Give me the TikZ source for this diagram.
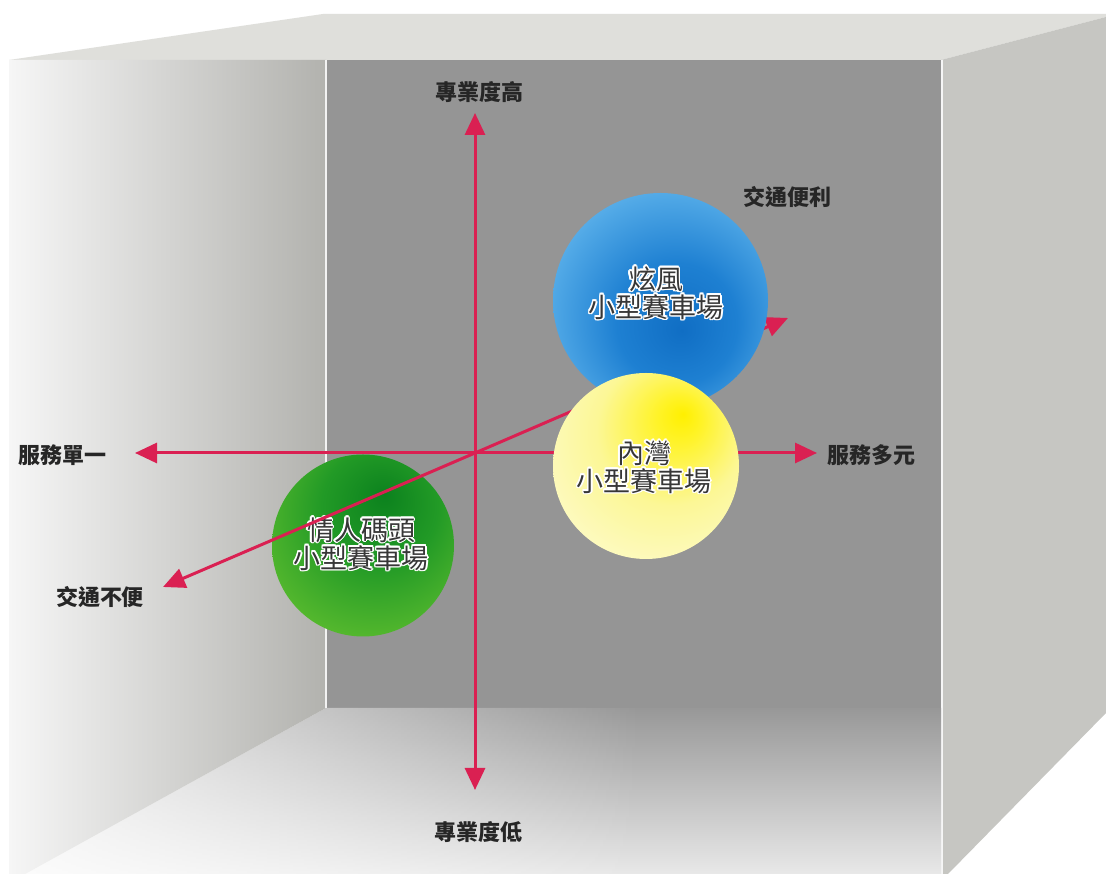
\documentclass[tikz,border=0pt]{standalone}
\usepackage{fontspec}
\setmainfont{Noto Sans CJK TC}
\usetikzlibrary{arrows.meta,fadings}

% room colours
\definecolor{topface}{RGB}{223,223,219}
\definecolor{rightface}{RGB}{198,198,194}
\definecolor{backwall}{RGB}{149,149,149}
\definecolor{wallhi}{RGB}{246,246,246}
\definecolor{walllo}{RGB}{178,178,174}
\definecolor{floortop}{RGB}{152,152,152}
\definecolor{floorbot}{RGB}{232,232,232}
\definecolor{axisred}{RGB}{218,32,82}
\definecolor{textgray}{RGB}{55,55,55}

% ball colours
\definecolor{blueA}{RGB}{16,110,196}
\definecolor{blueB}{RGB}{30,128,210}
\definecolor{blueC}{RGB}{80,168,230}
\definecolor{blueD}{RGB}{138,204,243}
\definecolor{blueE}{RGB}{172,222,249}
\definecolor{yelA}{RGB}{255,240,0}
\definecolor{yelB}{RGB}{255,243,40}
\definecolor{yelC}{RGB}{252,247,150}
\definecolor{yelD}{RGB}{253,251,205}
\definecolor{yelE}{RGB}{254,253,222}
\definecolor{grnA}{RGB}{12,130,30}
\definecolor{grnB}{RGB}{34,154,38}
\definecolor{grnC}{RGB}{88,186,46}
\definecolor{grnD}{RGB}{128,202,54}
\definecolor{grnE}{RGB}{146,210,64}

\pgfdeclareradialshading{blueball}{\pgfpoint{5bp}{-7bp}}{%
  color(0bp)=(blueA); color(14bp)=(blueB); color(28bp)=(blueC);
  color(42bp)=(blueD); color(52bp)=(blueE); color(60bp)=(blueE)}
\pgfdeclareradialshading{yellowball}{\pgfpoint{10bp}{14bp}}{%
  color(0bp)=(yelA); color(6bp)=(yelB); color(20bp)=(yelC);
  color(38bp)=(yelD); color(52bp)=(yelE); color(62bp)=(yelE)}
\pgfdeclareradialshading{greenball}{\pgfpoint{6bp}{14bp}}{%
  color(0bp)=(grnA); color(16bp)=(grnB); color(34bp)=(grnC);
  color(48bp)=(grnD); color(54bp)=(grnE); color(66bp)=(grnE)}

\tikzfading[name=fadetoright, left color=transparent!15, right color=transparent!100]

\tikzset{
  axis/.style={draw=axisred, line width=3pt, -{Triangle[length=22pt,width=20pt]}},
  axislabel/.style={font=\fontsize{22}{24}\selectfont\bfseries, text=black!85, inner sep=0pt},
  balltext/.style={font=\fontsize{27}{28}\selectfont, align=center, inner sep=0pt},
}

% text with a thin white halo; #2 is a bare x,y pair
\newcommand\halolabel[3]{%
  \foreach \ang in {0,30,...,330}{%
    \node[balltext, text=white, shift={(\ang:1.5pt)}] (#1-h\ang) at (#2) {#3};}
  \node[balltext, text=textgray] (#1) at (#2) {#3};}

\begin{document}
\begin{tikzpicture}[x=1pt,y=1pt]
\useasboundingbox (0,0) rectangle (1106,874);
\fill[white] (0,0) rectangle (1106,874);

% open box: top, right, back wall, floor, left wall
\fill[topface] (9,814) -- (323,860) -- (1106,860) -- (1106,857) -- (941,814) -- cycle;
\fill[rightface] (941,814) -- (1106,857) -- (1106,161) -- (948,0) -- (941,0) -- cycle;
\draw[white!85!rightface, line width=1.2pt] (942,814) -- (942,0);
\fill[backwall] (326,166) rectangle (941,814);
\shade[top color=floortop, bottom color=floorbot] (326,166) -- (941,166) -- (941,0) -- (25,0) -- cycle;
\fill[white, path fading=fadetoright] (25,0) -- (326,166) -- (640,166) -- (640,0) -- cycle;
\shade[left color=wallhi, right color=walllo] (9,814) -- (326,814) -- (326,166) -- (25,0) -- (9,0) -- cycle;
\draw[white!90!gray, line width=1.2pt] (326,814) -- (326,166);

% axes
\coordinate (o) at (475,421);
\coordinate (tipU) at (475,761);
\coordinate (tipD) at (475,84);
\coordinate (tipL) at (135,421);
\coordinate (tipR) at (817,421);
\coordinate (tipNear) at (163,287);
\coordinate (tipFar) at (788,556);

% green ball sits behind the axes
\path[shading=greenball] (363,328.5) circle (91pt);
\halolabel{greenTxt}{361,330}{情人碼頭\\小型賽車場}

\draw[axis] (o) -- (tipU);
\draw[axis] (o) -- (tipD);
\draw[axis] (o) -- (tipL);
\draw[axis] (o) -- (tipR);
\draw[axis] (o) -- (tipNear);
\draw[axis] (o) -- (tipFar);

% blue and yellow balls in front of the axes
\path[shading=blueball] (660.5,573.5) circle (107.5pt);
\halolabel{blueTxt}{656,581}{炫風\\小型賽車場}
\path[shading=yellowball] (646,408) circle (93pt);
\halolabel{yellowTxt}{644,407}{內灣\\小型賽車場}

% axis labels
\node[axislabel] (lblHigh) at (479,782) {專業度高};
\node[axislabel] (lblLow) at (478,42) {專業度低};
\node[axislabel] (lblSingle) at (63,419) {服務單一};
\node[axislabel] (lblMulti) at (871,419) {服務多元};
\node[axislabel] (lblNear) at (787,677) {交通便利};
\node[axislabel] (lblFar) at (100,277) {交通不便};
\end{tikzpicture}
\end{document}
